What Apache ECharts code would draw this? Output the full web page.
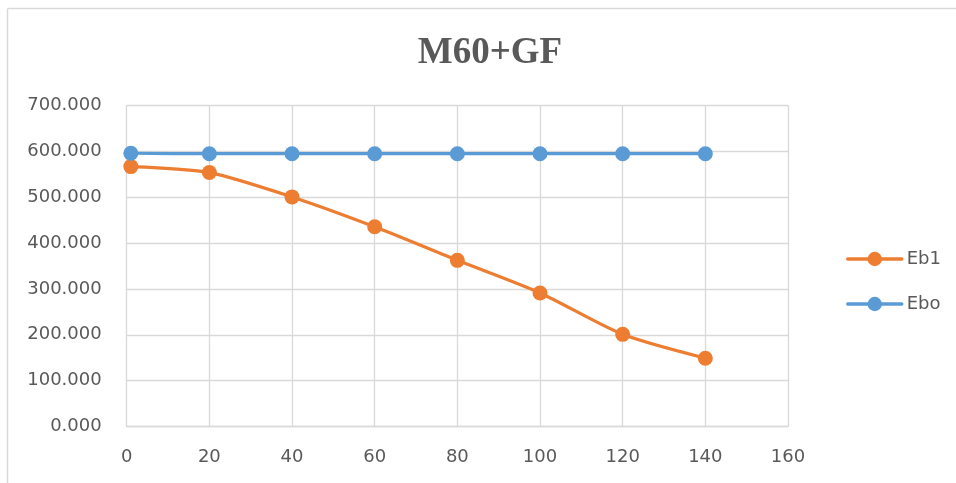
<!DOCTYPE html>
<html>
<head>
<meta charset="utf-8">
<script src="https://cdn.jsdelivr.net/npm/echarts@6/dist/echarts.min.js"></script>
<style>html,body{margin:0;padding:0;background:#fff;}#c{width:956px;height:483px;}</style>
</head>
<body>
<div id="c"></div>
<script>
const xValues = [1, 20, 40, 60, 80, 100, 120, 140];
const eb1 = [566, 553, 500, 435, 362, 291, 201, 149];
const ebo = [595, 594, 594, 594, 594, 594, 594, 594];
const seriesNames = ['Eb1', 'Ebo'];
const titleText = 'M60+GF';

const chart = echarts.init(document.getElementById('c'));
const font = 'DejaVu Sans';
chart.setOption({
  animation: false,
  backgroundColor: '#fff',
  title: {
    text: titleText, left: 485, top: 30, textAlign: 'center',
    textStyle: { fontFamily: 'Liberation Serif', fontWeight: 'bold', fontSize: 37, color: '#595959' }
  },
  grid: { left: 126.7, right: 168, top: 105, bottom: 56.3, containLabel: false },
  legend: {
    orient: 'vertical', left: 846, top: 250, itemWidth: 54, itemHeight: 18, itemGap: 27, padding: 0,
    data: seriesNames,
    lineStyle: { width: 3.5, cap: 'round' },
    textStyle: { fontFamily: font, fontSize: 18, color: '#595959' }
  },
  xAxis: {
    type: 'value', min: 0, max: 160, interval: 20,
    axisLine: { show: true, lineStyle: { color: '#d9d9d9', width: 1.3 } },
    axisTick: { show: false },
    axisLabel: { margin: 22, fontFamily: font, fontSize: 18, color: '#595959' },
    splitLine: { show: true, lineStyle: { color: '#d9d9d9', width: 1.3 } }
  },
  yAxis: {
    type: 'value', min: 0, max: 700, interval: 100,
    axisLine: { show: false },
    axisTick: { show: false },
    axisLabel: { margin: 25, fontFamily: font, fontSize: 18, color: '#595959', formatter: v => v.toFixed(3) },
    splitLine: { show: true, lineStyle: { color: '#d9d9d9', width: 1.3 } }
  },
  graphic: [
    { type: 'line', shape: { x1: 7.5, y1: 8.5, x2: 956, y2: 8.5 }, style: { stroke: '#d9d9d9', lineWidth: 1.5 } },
    { type: 'line', shape: { x1: 7.5, y1: 8.5, x2: 7.5, y2: 483 }, style: { stroke: '#d9d9d9', lineWidth: 1.5 } }
  ],
  series: [
    {
      name: seriesNames[0], type: 'line', smooth: 0.25,
      data: xValues.map((x, i) => [x, eb1[i]]),
      symbol: 'circle', symbolSize: 15,
      lineStyle: { color: '#ED7D31', width: 3.2, cap: 'round' },
      itemStyle: { color: '#ED7D31' }
    },
    {
      name: seriesNames[1], type: 'line', smooth: 0.25,
      data: xValues.map((x, i) => [x, ebo[i]]),
      symbol: 'circle', symbolSize: 15,
      lineStyle: { color: '#5B9BD5', width: 3.2, cap: 'round' },
      itemStyle: { color: '#5B9BD5' }
    }
  ]
});
</script>
</body>
</html>
